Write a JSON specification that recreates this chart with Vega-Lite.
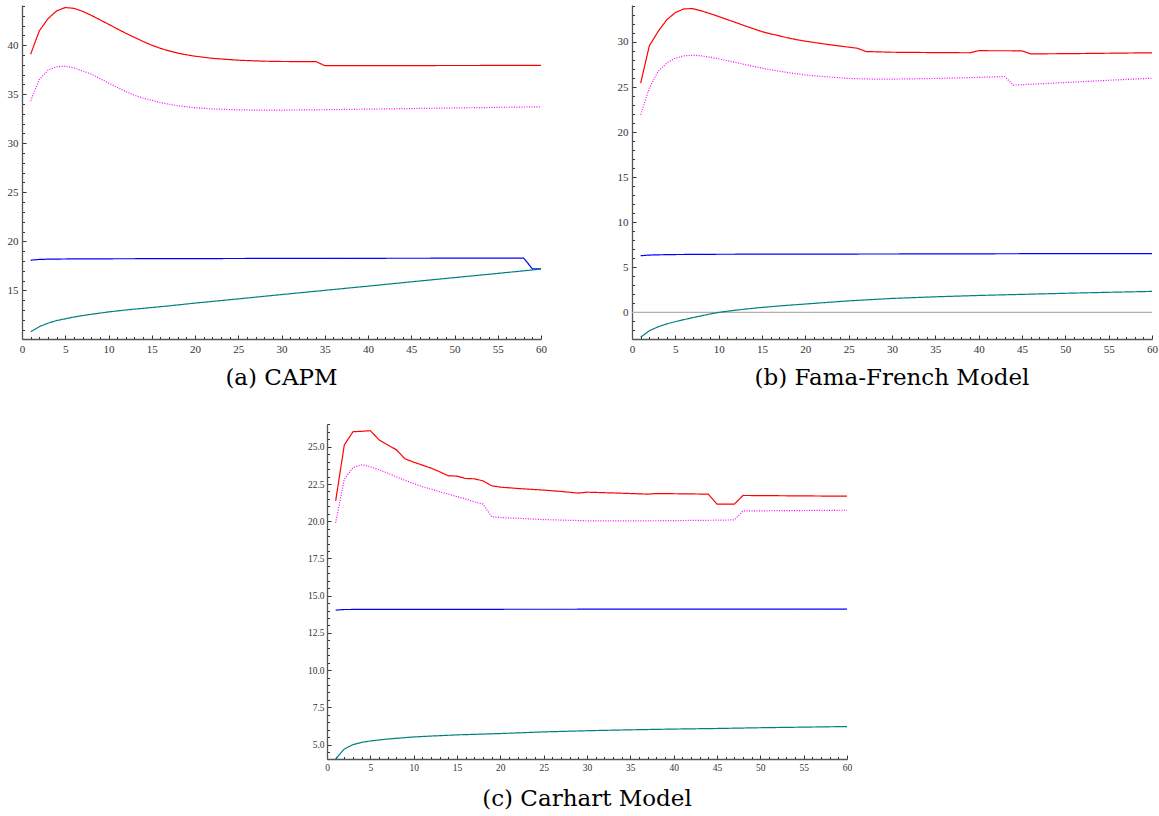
{
"$schema": "https://vega.github.io/schema/vega-lite/v6.json",
"padding": {"left": 7, "top": 5, "right": 0, "bottom": 0},
"config": {"view": {"stroke": null}, "axis": {"grid": false, "labelFlush": false, "labelFont": "Liberation Serif", "labelColor": "#333", "domainColor": "#555", "domainWidth": 1.3, "tickColor": "#333", "tickWidth": 1}, "line": {"strokeWidth": 1.2}},
"data": {"values": [
{"m":"a","s":"s1","x":1,"y":39.08},{"m":"a","s":"s1","x":2,"y":41.46},{"m":"a","s":"s1","x":3,"y":42.7},{"m":"a","s":"s1","x":4,"y":43.5},{"m":"a","s":"s1","x":5,"y":43.84},{"m":"a","s":"s1","x":6,"y":43.76},{"m":"a","s":"s1","x":7,"y":43.46},{"m":"a","s":"s1","x":8,"y":43.05},{"m":"a","s":"s1","x":9,"y":42.6},{"m":"a","s":"s1","x":10,"y":42.14},{"m":"a","s":"s1","x":11,"y":41.67},{"m":"a","s":"s1","x":12,"y":41.22},{"m":"a","s":"s1","x":13,"y":40.8},{"m":"a","s":"s1","x":14,"y":40.38},{"m":"a","s":"s1","x":15,"y":40.0},{"m":"a","s":"s1","x":16,"y":39.68},{"m":"a","s":"s1","x":17,"y":39.42},{"m":"a","s":"s1","x":18,"y":39.2},{"m":"a","s":"s1","x":19,"y":39.02},{"m":"a","s":"s1","x":20,"y":38.88},{"m":"a","s":"s1","x":22,"y":38.66},{"m":"a","s":"s1","x":25,"y":38.47},{"m":"a","s":"s1","x":28,"y":38.37},{"m":"a","s":"s1","x":30,"y":38.34},{"m":"a","s":"s1","x":34,"y":38.32},{"m":"a","s":"s1","x":35,"y":37.92},{"m":"a","s":"s1","x":40,"y":37.92},{"m":"a","s":"s1","x":50,"y":37.93},{"m":"a","s":"s1","x":60,"y":37.94},
{"m":"a","s":"s2","x":1,"y":34.33},{"m":"a","s":"s2","x":2,"y":36.5},{"m":"a","s":"s2","x":3,"y":37.45},{"m":"a","s":"s2","x":4,"y":37.8},{"m":"a","s":"s2","x":5,"y":37.86},{"m":"a","s":"s2","x":6,"y":37.69},{"m":"a","s":"s2","x":7,"y":37.38},{"m":"a","s":"s2","x":8,"y":37.05},{"m":"a","s":"s2","x":9,"y":36.6},{"m":"a","s":"s2","x":10,"y":36.15},{"m":"a","s":"s2","x":11,"y":35.7},{"m":"a","s":"s2","x":12,"y":35.27},{"m":"a","s":"s2","x":13,"y":34.9},{"m":"a","s":"s2","x":14,"y":34.6},{"m":"a","s":"s2","x":15,"y":34.38},{"m":"a","s":"s2","x":16,"y":34.15},{"m":"a","s":"s2","x":17,"y":33.98},{"m":"a","s":"s2","x":18,"y":33.83},{"m":"a","s":"s2","x":19,"y":33.72},{"m":"a","s":"s2","x":20,"y":33.63},{"m":"a","s":"s2","x":22,"y":33.5},{"m":"a","s":"s2","x":25,"y":33.41},{"m":"a","s":"s2","x":28,"y":33.37},{"m":"a","s":"s2","x":30,"y":33.38},{"m":"a","s":"s2","x":35,"y":33.42},{"m":"a","s":"s2","x":40,"y":33.48},{"m":"a","s":"s2","x":45,"y":33.54},{"m":"a","s":"s2","x":50,"y":33.6},{"m":"a","s":"s2","x":55,"y":33.66},{"m":"a","s":"s2","x":60,"y":33.72},
{"m":"a","s":"s3","x":1,"y":18.08},{"m":"a","s":"s3","x":2,"y":18.15},{"m":"a","s":"s3","x":3,"y":18.18},{"m":"a","s":"s3","x":5,"y":18.2},{"m":"a","s":"s3","x":10,"y":18.22},{"m":"a","s":"s3","x":20,"y":18.24},{"m":"a","s":"s3","x":30,"y":18.26},{"m":"a","s":"s3","x":40,"y":18.27},{"m":"a","s":"s3","x":50,"y":18.28},{"m":"a","s":"s3","x":58,"y":18.29},{"m":"a","s":"s3","x":59,"y":17.2},{"m":"a","s":"s3","x":60,"y":17.2},
{"m":"a","s":"s4","x":1,"y":10.78},{"m":"a","s":"s4","x":2,"y":11.3},{"m":"a","s":"s4","x":3,"y":11.65},{"m":"a","s":"s4","x":4,"y":11.92},{"m":"a","s":"s4","x":5,"y":12.1},{"m":"a","s":"s4","x":6,"y":12.28},{"m":"a","s":"s4","x":7,"y":12.43},{"m":"a","s":"s4","x":8,"y":12.56},{"m":"a","s":"s4","x":9,"y":12.68},{"m":"a","s":"s4","x":10,"y":12.8},{"m":"a","s":"s4","x":12,"y":13.0},{"m":"a","s":"s4","x":15,"y":13.25},{"m":"a","s":"s4","x":17,"y":13.42},{"m":"a","s":"s4","x":20,"y":13.7},{"m":"a","s":"s4","x":25,"y":14.13},{"m":"a","s":"s4","x":30,"y":14.57},{"m":"a","s":"s4","x":35,"y":15.0},{"m":"a","s":"s4","x":40,"y":15.43},{"m":"a","s":"s4","x":45,"y":15.87},{"m":"a","s":"s4","x":50,"y":16.3},{"m":"a","s":"s4","x":55,"y":16.73},{"m":"a","s":"s4","x":60,"y":17.17},
{"m":"b","s":"zero","x":0,"y":0},{"m":"b","s":"zero","x":60,"y":0},
{"m":"b","s":"s1","x":1,"y":25.43},{"m":"b","s":"s1","x":2,"y":29.57},{"m":"b","s":"s1","x":3,"y":31.15},{"m":"b","s":"s1","x":4,"y":32.45},{"m":"b","s":"s1","x":5,"y":33.26},{"m":"b","s":"s1","x":6,"y":33.67},{"m":"b","s":"s1","x":7,"y":33.7},{"m":"b","s":"s1","x":8,"y":33.45},{"m":"b","s":"s1","x":9,"y":33.15},{"m":"b","s":"s1","x":10,"y":32.82},{"m":"b","s":"s1","x":11,"y":32.48},{"m":"b","s":"s1","x":12,"y":32.15},{"m":"b","s":"s1","x":13,"y":31.8},{"m":"b","s":"s1","x":14,"y":31.47},{"m":"b","s":"s1","x":15,"y":31.15},{"m":"b","s":"s1","x":16,"y":30.9},{"m":"b","s":"s1","x":17,"y":30.68},{"m":"b","s":"s1","x":18,"y":30.45},{"m":"b","s":"s1","x":19,"y":30.25},{"m":"b","s":"s1","x":20,"y":30.09},{"m":"b","s":"s1","x":22,"y":29.8},{"m":"b","s":"s1","x":24,"y":29.55},{"m":"b","s":"s1","x":26,"y":29.3},{"m":"b","s":"s1","x":27,"y":28.94},{"m":"b","s":"s1","x":30,"y":28.86},{"m":"b","s":"s1","x":35,"y":28.82},{"m":"b","s":"s1","x":39,"y":28.8},{"m":"b","s":"s1","x":40,"y":29.03},{"m":"b","s":"s1","x":45,"y":29.02},{"m":"b","s":"s1","x":46,"y":28.68},{"m":"b","s":"s1","x":50,"y":28.7},{"m":"b","s":"s1","x":55,"y":28.75},{"m":"b","s":"s1","x":60,"y":28.8},
{"m":"b","s":"s2","x":1,"y":21.92},{"m":"b","s":"s2","x":2,"y":24.9},{"m":"b","s":"s2","x":3,"y":26.72},{"m":"b","s":"s2","x":4,"y":27.65},{"m":"b","s":"s2","x":5,"y":28.2},{"m":"b","s":"s2","x":6,"y":28.46},{"m":"b","s":"s2","x":7,"y":28.53},{"m":"b","s":"s2","x":8,"y":28.46},{"m":"b","s":"s2","x":9,"y":28.3},{"m":"b","s":"s2","x":10,"y":28.13},{"m":"b","s":"s2","x":11,"y":27.93},{"m":"b","s":"s2","x":12,"y":27.72},{"m":"b","s":"s2","x":13,"y":27.5},{"m":"b","s":"s2","x":14,"y":27.3},{"m":"b","s":"s2","x":15,"y":27.1},{"m":"b","s":"s2","x":16,"y":26.93},{"m":"b","s":"s2","x":17,"y":26.76},{"m":"b","s":"s2","x":18,"y":26.6},{"m":"b","s":"s2","x":19,"y":26.47},{"m":"b","s":"s2","x":20,"y":26.35},{"m":"b","s":"s2","x":22,"y":26.17},{"m":"b","s":"s2","x":25,"y":25.95},{"m":"b","s":"s2","x":28,"y":25.88},{"m":"b","s":"s2","x":30,"y":25.88},{"m":"b","s":"s2","x":35,"y":25.95},{"m":"b","s":"s2","x":40,"y":26.07},{"m":"b","s":"s2","x":43,"y":26.16},{"m":"b","s":"s2","x":44,"y":25.21},{"m":"b","s":"s2","x":50,"y":25.5},{"m":"b","s":"s2","x":55,"y":25.75},{"m":"b","s":"s2","x":60,"y":25.98},
{"m":"b","s":"s3","x":1,"y":6.29},{"m":"b","s":"s3","x":2,"y":6.36},{"m":"b","s":"s3","x":3,"y":6.39},{"m":"b","s":"s3","x":5,"y":6.42},{"m":"b","s":"s3","x":10,"y":6.45},{"m":"b","s":"s3","x":20,"y":6.47},{"m":"b","s":"s3","x":30,"y":6.48},{"m":"b","s":"s3","x":40,"y":6.5},{"m":"b","s":"s3","x":50,"y":6.52},{"m":"b","s":"s3","x":60,"y":6.53},
{"m":"b","s":"s4","x":1,"y":-2.75},{"m":"b","s":"s4","x":2,"y":-2.03},{"m":"b","s":"s4","x":3,"y":-1.6},{"m":"b","s":"s4","x":4,"y":-1.28},{"m":"b","s":"s4","x":5,"y":-1.02},{"m":"b","s":"s4","x":6,"y":-0.8},{"m":"b","s":"s4","x":7,"y":-0.58},{"m":"b","s":"s4","x":8,"y":-0.38},{"m":"b","s":"s4","x":9,"y":-0.18},{"m":"b","s":"s4","x":10,"y":0.0},{"m":"b","s":"s4","x":11,"y":0.13},{"m":"b","s":"s4","x":12,"y":0.25},{"m":"b","s":"s4","x":13,"y":0.36},{"m":"b","s":"s4","x":14,"y":0.46},{"m":"b","s":"s4","x":15,"y":0.55},{"m":"b","s":"s4","x":17,"y":0.72},{"m":"b","s":"s4","x":20,"y":0.93},{"m":"b","s":"s4","x":22,"y":1.07},{"m":"b","s":"s4","x":25,"y":1.28},{"m":"b","s":"s4","x":30,"y":1.55},{"m":"b","s":"s4","x":35,"y":1.73},{"m":"b","s":"s4","x":40,"y":1.88},{"m":"b","s":"s4","x":45,"y":2.0},{"m":"b","s":"s4","x":50,"y":2.12},{"m":"b","s":"s4","x":55,"y":2.23},{"m":"b","s":"s4","x":60,"y":2.33},
{"m":"c","s":"s1","x":1,"y":21.37},{"m":"c","s":"s1","x":2,"y":25.13},{"m":"c","s":"s1","x":3,"y":26.01},{"m":"c","s":"s1","x":4,"y":26.04},{"m":"c","s":"s1","x":5,"y":26.08},{"m":"c","s":"s1","x":6,"y":25.47},{"m":"c","s":"s1","x":7,"y":25.13},{"m":"c","s":"s1","x":8,"y":24.8},{"m":"c","s":"s1","x":9,"y":24.19},{"m":"c","s":"s1","x":10,"y":23.97},{"m":"c","s":"s1","x":11,"y":23.77},{"m":"c","s":"s1","x":12,"y":23.57},{"m":"c","s":"s1","x":13,"y":23.32},{"m":"c","s":"s1","x":14,"y":23.05},{"m":"c","s":"s1","x":15,"y":23.03},{"m":"c","s":"s1","x":16,"y":22.87},{"m":"c","s":"s1","x":17,"y":22.85},{"m":"c","s":"s1","x":18,"y":22.71},{"m":"c","s":"s1","x":19,"y":22.38},{"m":"c","s":"s1","x":20,"y":22.29},{"m":"c","s":"s1","x":22,"y":22.2},{"m":"c","s":"s1","x":25,"y":22.09},{"m":"c","s":"s1","x":27,"y":22.0},{"m":"c","s":"s1","x":29,"y":21.89},{"m":"c","s":"s1","x":30,"y":21.95},{"m":"c","s":"s1","x":33,"y":21.9},{"m":"c","s":"s1","x":36,"y":21.84},{"m":"c","s":"s1","x":37,"y":21.82},{"m":"c","s":"s1","x":38,"y":21.86},{"m":"c","s":"s1","x":44,"y":21.82},{"m":"c","s":"s1","x":45,"y":21.15},{"m":"c","s":"s1","x":47,"y":21.15},{"m":"c","s":"s1","x":48,"y":21.73},{"m":"c","s":"s1","x":60,"y":21.68},
{"m":"c","s":"s2","x":1,"y":19.89},{"m":"c","s":"s2","x":2,"y":22.83},{"m":"c","s":"s2","x":3,"y":23.61},{"m":"c","s":"s2","x":4,"y":23.79},{"m":"c","s":"s2","x":5,"y":23.66},{"m":"c","s":"s2","x":6,"y":23.45},{"m":"c","s":"s2","x":7,"y":23.23},{"m":"c","s":"s2","x":8,"y":22.98},{"m":"c","s":"s2","x":9,"y":22.75},{"m":"c","s":"s2","x":10,"y":22.53},{"m":"c","s":"s2","x":11,"y":22.33},{"m":"c","s":"s2","x":12,"y":22.15},{"m":"c","s":"s2","x":13,"y":21.98},{"m":"c","s":"s2","x":14,"y":21.82},{"m":"c","s":"s2","x":15,"y":21.65},{"m":"c","s":"s2","x":16,"y":21.5},{"m":"c","s":"s2","x":17,"y":21.3},{"m":"c","s":"s2","x":18,"y":21.15},{"m":"c","s":"s2","x":19,"y":20.3},{"m":"c","s":"s2","x":20,"y":20.25},{"m":"c","s":"s2","x":25,"y":20.11},{"m":"c","s":"s2","x":30,"y":20.03},{"m":"c","s":"s2","x":35,"y":20.02},{"m":"c","s":"s2","x":40,"y":20.04},{"m":"c","s":"s2","x":45,"y":20.07},{"m":"c","s":"s2","x":47,"y":20.09},{"m":"c","s":"s2","x":48,"y":20.69},{"m":"c","s":"s2","x":60,"y":20.74},
{"m":"c","s":"s3","x":1,"y":14.03},{"m":"c","s":"s3","x":2,"y":14.07},{"m":"c","s":"s3","x":5,"y":14.08},{"m":"c","s":"s3","x":30,"y":14.09},{"m":"c","s":"s3","x":60,"y":14.1},
{"m":"c","s":"s4","x":1,"y":4.03},{"m":"c","s":"s4","x":2,"y":4.7},{"m":"c","s":"s4","x":3,"y":5.0},{"m":"c","s":"s4","x":4,"y":5.15},{"m":"c","s":"s4","x":5,"y":5.24},{"m":"c","s":"s4","x":6,"y":5.31},{"m":"c","s":"s4","x":7,"y":5.37},{"m":"c","s":"s4","x":8,"y":5.42},{"m":"c","s":"s4","x":10,"y":5.51},{"m":"c","s":"s4","x":12,"y":5.57},{"m":"c","s":"s4","x":15,"y":5.65},{"m":"c","s":"s4","x":20,"y":5.74},{"m":"c","s":"s4","x":25,"y":5.85},{"m":"c","s":"s4","x":30,"y":5.93},{"m":"c","s":"s4","x":35,"y":5.99},{"m":"c","s":"s4","x":40,"y":6.04},{"m":"c","s":"s4","x":45,"y":6.08},{"m":"c","s":"s4","x":50,"y":6.13},{"m":"c","s":"s4","x":55,"y":6.17},{"m":"c","s":"s4","x":60,"y":6.21}
]},
"vconcat": [
{"hconcat": [
{"width": 519, "height": 334,
 "title": {"text": "(a) CAPM", "orient": "bottom", "anchor": "middle", "font": "DejaVu Serif", "fontSize": 23, "fontWeight": "normal", "color": "#000", "offset": 13},
 "transform": [{"filter": "datum.m == 'a'"}],
 "layer": [
  {"mark": {"type": "line", "strokeOpacity": 0},
   "encoding": {
    "x": {"field": "x", "type": "quantitative", "scale": {"domain": [0, 60], "nice": false}, "axis": {"orient": "bottom", "title": null, "values": [1,2,3,4,6,7,8,9,11,12,13,14,16,17,18,19,21,22,23,24,26,27,28,29,31,32,33,34,36,37,38,39,41,42,43,44,46,47,48,49,51,52,53,54,56,57,58,59], "labels": false, "domain": false, "tickSize": -2.5}},
    "y": {"field": "y", "type": "quantitative", "scale": {"domain": [10.04, 44.1], "nice": false, "zero": false}, "axis": {"orient": "left", "title": null, "values": [11,12,13,14,16,17,18,19,21,22,23,24,26,27,28,29,31,32,33,34,36,37,38,39,41,42,43,44], "labels": false, "domain": false, "tickSize": -2.5}},
    "detail": {"field": "s"}}},
  {"mark": {"type": "line"},
   "encoding": {
    "x": {"field": "x", "type": "quantitative", "axis": {"orient": "bottom", "title": null, "values": [0,5,10,15,20,25,30,35,40,45,50,55,60], "tickSize": -4, "labelPadding": 8, "labelFontSize": 11}},
    "y": {"field": "y", "type": "quantitative", "axis": {"orient": "left", "title": null, "values": [15,20,25,30,35,40], "tickSize": -4, "labelPadding": 8, "labelFontSize": 11}},
    "color": {"field": "s", "type": "nominal", "legend": null, "scale": {"domain": ["zero","s1","s2","s3","s4"], "range": ["#b0b0b0","#ff0000","#ff00ff","#0000ff","#008080"]}},
    "strokeDash": {"field": "s", "type": "nominal", "legend": null, "scale": {"domain": ["zero","s1","s2","s3","s4"], "range": [[1,0],[1,0],[1,1.5],[1,0],[1,0]]}}}}
 ],
 "resolve": {"axis": {"x": "independent", "y": "independent"}}},
{"width": 520, "height": 334,
 "title": {"text": "(b) Fama-French Model", "orient": "bottom", "anchor": "middle", "font": "DejaVu Serif", "fontSize": 23, "fontWeight": "normal", "color": "#000", "offset": 13},
 "transform": [{"filter": "datum.m == 'b'"}],
 "layer": [
  {"mark": {"type": "line", "strokeOpacity": 0},
   "encoding": {
    "x": {"field": "x", "type": "quantitative", "scale": {"domain": [0, 60], "nice": false}, "axis": {"orient": "bottom", "title": null, "values": [1,2,3,4,6,7,8,9,11,12,13,14,16,17,18,19,21,22,23,24,26,27,28,29,31,32,33,34,36,37,38,39,41,42,43,44,46,47,48,49,51,52,53,54,56,57,58,59], "labels": false, "domain": false, "tickSize": -2.5}},
    "y": {"field": "y", "type": "quantitative", "scale": {"domain": [-2.95, 34.1], "nice": false, "zero": false}, "axis": {"orient": "left", "title": null, "values": [-2,-1,1,2,3,4,6,7,8,9,11,12,13,14,16,17,18,19,21,22,23,24,26,27,28,29,31,32,33,34], "labels": false, "domain": false, "tickSize": -2.5}},
    "detail": {"field": "s"}}},
  {"mark": {"type": "line"},
   "encoding": {
    "x": {"field": "x", "type": "quantitative", "axis": {"orient": "bottom", "title": null, "values": [0,5,10,15,20,25,30,35,40,45,50,55,60], "tickSize": -4, "labelPadding": 8, "labelFontSize": 11}},
    "y": {"field": "y", "type": "quantitative", "axis": {"orient": "left", "title": null, "values": [0,5,10,15,20,25,30], "tickSize": -4, "labelPadding": 8, "labelFontSize": 11}},
    "color": {"field": "s", "type": "nominal", "legend": null, "scale": {"domain": ["zero","s1","s2","s3","s4"], "range": ["#b0b0b0","#ff0000","#ff00ff","#0000ff","#008080"]}},
    "strokeDash": {"field": "s", "type": "nominal", "legend": null, "scale": {"domain": ["zero","s1","s2","s3","s4"], "range": [[1,0],[1,0],[1,1.5],[1,0],[1,0]]}}}}
 ],
 "resolve": {"axis": {"x": "independent", "y": "independent"}}}
], "spacing": 91, "bounds": "flush"},
{"hconcat": [
{"width": 1, "height": 1, "transform": [{"filter": "false"}], "mark": {"type": "point"},
 "encoding": {"x": {"field": "x", "type": "quantitative", "axis": null}, "y": {"field": "y", "type": "quantitative", "axis": null}}},
{"width": 520, "height": 335,
 "title": {"text": "(c) Carhart Model", "orient": "bottom", "anchor": "middle", "font": "DejaVu Serif", "fontSize": 23, "fontWeight": "normal", "color": "#000", "offset": 16},
 "transform": [{"filter": "datum.m == 'c'"}],
 "layer": [
  {"mark": {"type": "line", "strokeOpacity": 0},
   "encoding": {
    "x": {"field": "x", "type": "quantitative", "scale": {"domain": [0, 60], "nice": false}, "axis": {"orient": "bottom", "title": null, "values": [1,2,3,4,6,7,8,9,11,12,13,14,16,17,18,19,21,22,23,24,26,27,28,29,31,32,33,34,36,37,38,39,41,42,43,44,46,47,48,49,51,52,53,54,56,57,58,59], "labels": false, "domain": false, "tickSize": -2.5}},
    "y": {"field": "y", "type": "quantitative", "scale": {"domain": [4.03, 26.53], "nice": false, "zero": false}, "axis": {"orient": "left", "title": null, "values": [4.5,5.5,6,6.5,7,8,8.5,9,9.5,10.5,11,11.5,12,13,13.5,14,14.5,15.5,16,16.5,17,18,18.5,19,19.5,20.5,21,21.5,22,23,23.5,24,24.5,25.5,26,26.5], "labels": false, "domain": false, "tickSize": -2.5}},
    "detail": {"field": "s"}}},
  {"mark": {"type": "line"},
   "encoding": {
    "x": {"field": "x", "type": "quantitative", "axis": {"orient": "bottom", "title": null, "values": [0,5,10,15,20,25,30,35,40,45,50,55,60], "tickSize": -4, "labelPadding": 7, "labelFontSize": 9.5}},
    "y": {"field": "y", "type": "quantitative", "axis": {"orient": "left", "title": null, "values": [5,7.5,10,12.5,15,17.5,20,22.5,25], "format": ".1f", "tickSize": -4, "labelPadding": 7, "labelFontSize": 9.5}},
    "color": {"field": "s", "type": "nominal", "legend": null, "scale": {"domain": ["zero","s1","s2","s3","s4"], "range": ["#b0b0b0","#ff0000","#ff00ff","#0000ff","#008080"]}},
    "strokeDash": {"field": "s", "type": "nominal", "legend": null, "scale": {"domain": ["zero","s1","s2","s3","s4"], "range": [[1,0],[1,0],[1,1.5],[1,0],[1,0]]}}}}
 ],
 "resolve": {"axis": {"x": "independent", "y": "independent"}}}
], "spacing": 304, "bounds": "flush"}
],
"spacing": 33
}
